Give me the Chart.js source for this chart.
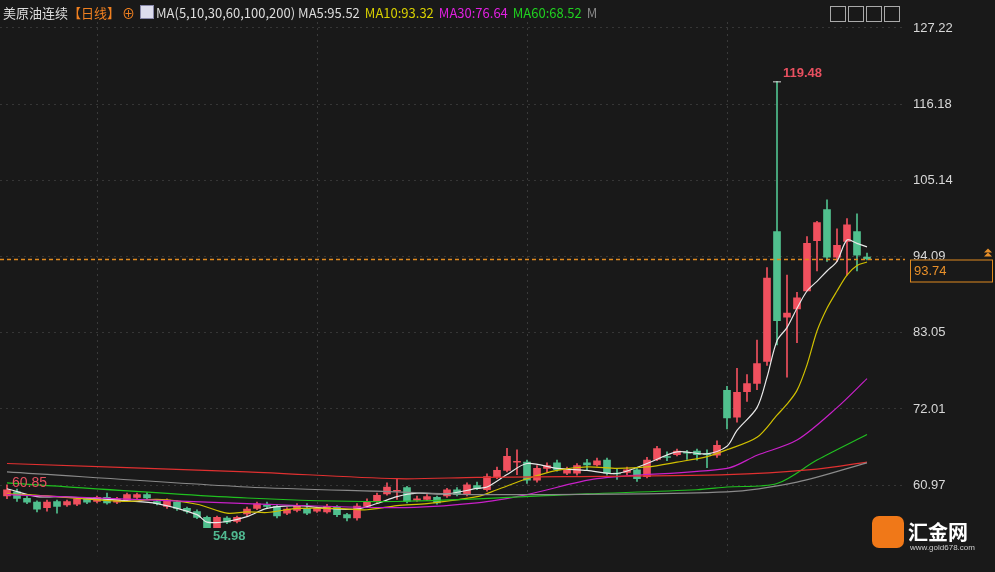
<!DOCTYPE html>
<html><head><meta charset="utf-8">
<script src="https://cdn.jsdelivr.net/npm/chart.js@4"></script>
<style>
html,body{margin:0;padding:0;background:#191919;overflow:hidden}
#wrap{position:relative;width:995px;height:572px}
#hdr{position:absolute;left:0;top:0;width:995px;height:22px;font:13px "Noto Sans CJK SC","Liberation Sans",sans-serif;color:#ddd;line-height:26px;white-space:nowrap}
#hdr span{margin-right:5px}
#logo{position:absolute;left:872px;top:514px;width:118px;height:38px;font:bold 20px "Noto Sans CJK SC",sans-serif;color:#fff}
</style></head><body>
<div id="wrap">
<canvas id="c" width="995" height="572"></canvas>
<div id="hdr"><span style="margin-left:3px;margin-right:0">美原油连续</span><span style="color:#f08020;margin-right:2px">【日线】</span><span style="color:#f08020">⊕</span><span style="display:inline-block;width:12px;height:12px;background:#dde;border:1px solid #88a;vertical-align:-1px;margin-right:2px"></span><span>MA(5,10,30,60,100,200) MA5:95.52</span><span style="color:#d8d000">MA10:93.32</span><span style="color:#e020e0">MA30:76.64</span><span style="color:#20d020">MA60:68.52</span><span style="color:#888">M</span>
<span style="position:absolute;left:830px;top:4px;width:80px;height:15px;">
<span style="display:inline-block;width:14px;height:14px;border:1px solid #aaa;margin-right:2px"></span><span style="display:inline-block;width:14px;height:14px;border:1px solid #aaa;margin-right:2px"></span><span style="display:inline-block;width:14px;height:14px;border:1px solid #aaa;margin-right:2px"></span><span style="display:inline-block;width:14px;height:14px;border:1px solid #aaa"></span></span></div>
<div id="logo"><span style="display:inline-block;width:32px;height:32px;border-radius:7px;background:#f07818;vertical-align:middle;margin-right:4px"></span><span style="vertical-align:middle">汇金网</span><div style="position:absolute;left:38px;top:29px;font:8px sans-serif;color:#ccc">www.gold678.com</div></div>
</div>
<script>
const opens =[59.4,60.0,59.05,58.5,57.7,58.6,58.1,58.2,59.0,58.6,59.2,58.5,58.8,59.2,59.6,58.6,57.9,58.5,57.6,57.15,56.3,54.8,56.2,55.7,56.8,
57.6,58.1,57.9,56.9,57.3,57.6,57.2,57.1,57.8,56.7,56.2,57.9,58.6,59.7,60.1,60.6,58.8,58.9,59.2,59.4,60.3,59.6,60.9,60.3,62.2,63.1,64.3,64.3,61.7,63.4,64.2,62.7,62.7,64.2,63.9,64.6,62.6,62.8,63.2,62.2,64.7,65.0,65.4,65.6,65.9,65.4,65.3,
74.7,70.8,74.5,75.7,78.9,97.7,85.3,86.5,89.1,96.4,100.9,94.0,96.3,97.7,94.0];
const closes=[60.3,59.05,58.5,57.5,58.5,57.9,58.6,59.0,58.5,59.2,58.4,59.0,59.6,59.6,59.1,58.3,58.8,57.6,57.2,56.3,54.8,56.3,55.6,56.3,57.5,
58.25,57.9,56.5,57.5,57.9,56.9,57.6,57.9,56.7,56.2,57.95,58.6,59.5,60.7,60.15,58.6,59.0,59.3,58.4,60.3,59.6,61.0,60.5,62.2,63.1,65.15,64.35,61.7,63.4,63.8,63.2,63.2,63.8,63.9,64.5,62.7,62.5,63.2,61.9,64.6,66.25,64.9,65.9,65.55,65.4,65.35,66.75,
70.7,74.4,75.7,78.6,90.96,84.8,85.9,88.1,96.0,99.0,93.99,95.7,98.7,94.3,93.74];
const highs=[61.0,60.4,59.6,58.7,58.8,58.8,58.8,59.2,59.2,59.4,59.8,59.2,59.8,59.8,59.9,58.8,59.0,58.7,57.8,57.4,56.5,56.5,56.4,56.5,57.8,
58.5,58.5,58.1,57.7,58.3,58.3,57.8,58.2,58.0,56.9,58.3,59.0,59.8,61.3,61.8,60.8,59.4,59.6,59.4,60.5,60.6,61.3,61.4,62.6,63.6,66.3,66.1,64.6,63.8,64.2,64.6,63.6,64.1,64.7,64.9,64.9,63.4,63.6,63.4,65.0,66.6,65.8,66.2,66.0,66.2,66.1,67.4,
75.3,77.9,77.0,82.0,92.5,119.48,91.4,88.9,97.0,99.2,102.3,98.1,99.6,100.3,94.6];
const lows=[59.0,58.6,58.3,57.1,57.2,56.9,57.9,58.0,58.3,58.4,58.2,58.3,58.6,59.0,58.9,58.1,57.6,57.3,56.9,56.1,54.98,55.1,55.4,55.5,56.5,
57.4,57.6,56.2,56.7,57.1,56.7,57.0,56.9,56.4,55.8,55.9,57.7,58.4,59.5,58.9,58.4,58.6,58.7,58.2,59.2,59.4,59.4,60.3,60.1,61.9,62.9,62.5,61.2,61.4,62.8,63.0,62.5,62.4,63.2,63.7,62.4,61.8,62.5,61.5,62.0,64.5,64.5,65.2,64.7,64.6,63.5,65.0,
69.1,70.1,73.1,74.8,78.3,81.3,76.6,81.6,89.1,92.0,93.4,93.4,91.4,92.0,93.6];
// moving-average lines: [candle index, value]
const ma5=[[0,60.45],[3,59.3],[5,59.3],[9,59.0],[12,58.7],[15,58.3],[19,56.7],[20,55.6],[22,55.7],[24,56.4],[26,57.6],[29,58.0],[32,57.6],[35,57.5],[37,58.3],[39,59.3],[41,59.8],[44,59.7],[47,60.5],[48,60.7],[50,62.5],[52,64.1],[55,63.4],[58,63.1],[61,62.65],[64,64.1],[67,65.8],[70,65.5],[72,66.6],[73,68.9],[75,72.2],[76,76.6],[77,81.9],[78,83.8],[79,86.6],[80,89.1],[81,90.5],[82,92.0],[83,93.4],[84,96.5],[85,96.0],[86,95.5]];
const ma10=[[0,59.7],[2,59.6],[5,59.3],[12,58.6],[15,58.9],[19,58.2],[22,56.9],[24,57.1],[26,57.0],[29,57.6],[33,57.6],[36,57.4],[39,58.0],[42,58.3],[47,59.3],[49,60.3],[52,61.9],[55,63.1],[58,63.6],[61,63.4],[64,63.6],[67,64.3],[70,65.1],[72,66.1],[75,67.9],[77,71.1],[78,72.7],[79,74.7],[80,78.4],[81,83.3],[82,86.6],[83,89.1],[84,91.4],[85,92.8],[86,93.3]];
const ma30=[[0,59.6],[24,58.3],[39,57.7],[47,58.4],[52,59.6],[59,61.9],[72,63.4],[75,65.3],[79,67.5],[83,72.2],[86,76.4]];
const ma60=[[0,61.3],[24,59.1],[39,58.6],[58,59.7],[69,60.3],[72,60.7],[77,61.2],[81,64.6],[86,68.3]];
const ma100=[[0,64.1],[24,62.9],[39,61.9],[47,62.1],[72,62.5],[81,63.3],[86,64.3]];
const ma200=[[0,62.9],[24,60.7],[39,60.0],[47,59.6],[72,60.0],[79,61.4],[86,64.2]];
const yTicks=[60.97,72.01,83.05,94.09,105.14,116.18,127.22];
const lastPrice=93.74;

const UP='#f0505e', DN='#50c08e';
const idx=opens.map((_,i)=>i);
const col=idx.map(i=>closes[i]>=opens[i]?UP:DN);
const body=idx.map(i=>({x:i,y:[opens[i],Math.abs(closes[i]-opens[i])<0.12?opens[i]+0.12:closes[i]]}));
const wick=idx.map(i=>({x:i,y:[lows[i],highs[i]]}));
const pts=a=>a.map(p=>({x:p[0],y:p[1]}));
const line=(d,c)=>({type:'line',data:pts(d),borderColor:c,borderWidth:1.2,pointRadius:0,tension:0.3,order:0});

const deco={id:'deco',
 beforeDatasetsDraw(ch){const {ctx,chartArea:a,scales:{x,y}}=ch;ctx.save();
  ctx.strokeStyle='#3a3a3a';ctx.setLineDash([2,4]);ctx.lineWidth=1;
  [9,31,52,72].forEach(i=>{const px=Math.round(x.getPixelForValue(i))+0.5;ctx.beginPath();ctx.moveTo(px,a.top);ctx.lineTo(px,a.bottom);ctx.stroke();});
  ctx.restore();},
 afterDatasetsDraw(ch){const {ctx,chartArea:a,scales:{x,y}}=ch;ctx.save();
  const py=Math.round(y.getPixelForValue(lastPrice))+0.5;
  ctx.strokeStyle='#e08a20';ctx.lineWidth=1.3;ctx.setLineDash([4,3]);ctx.beginPath();ctx.moveTo(0,py);ctx.lineTo(a.right,py);ctx.stroke();ctx.setLineDash([]);ctx.lineWidth=1;
  ctx.fillStyle='#191919';ctx.fillRect(910,py,82,22);ctx.strokeStyle='#e08a20';ctx.strokeRect(910.5,py+0.5,82,22);
  ctx.fillStyle='#e8902a';ctx.font='13px "Liberation Sans",sans-serif';ctx.textBaseline='middle';ctx.fillText(lastPrice.toFixed(2),914,py+12);
  ctx.beginPath();ctx.moveTo(984,py-7);ctx.lineTo(988,py-11);ctx.lineTo(992,py-7);ctx.closePath();ctx.fill();
  ctx.beginPath();ctx.moveTo(984,py-3);ctx.lineTo(988,py-7);ctx.lineTo(992,py-3);ctx.closePath();ctx.fill();
  const hi=highs.indexOf(Math.max(...highs)), lo=lows.indexOf(Math.min(...lows));
  ctx.font='bold 13px "Liberation Sans",sans-serif';ctx.textBaseline='alphabetic';
  const hx=x.getPixelForValue(hi),hy=y.getPixelForValue(highs[hi]);
  ctx.strokeStyle='#ddd';ctx.beginPath();ctx.moveTo(hx-4,hy+0.5);ctx.lineTo(hx+4,hy+0.5);ctx.stroke();
  ctx.fillStyle='#e85060';ctx.fillText(highs[hi].toFixed(2),hx+6,hy-4);
  const lx=x.getPixelForValue(lo),ly=y.getPixelForValue(lows[lo]);
  ctx.fillStyle='#50b890';ctx.fillText(lows[lo].toFixed(2),lx+6,ly+14);
  ctx.fillStyle='#e85060';ctx.font='14px "Liberation Sans",sans-serif';ctx.fillText('60.85',12,487);
  ctx.restore();}
};

new Chart(document.getElementById('c'),{
 data:{datasets:[
  line(ma200,'#8a8a8a'),line(ma100,'#e03030'),line(ma60,'#20c020'),line(ma30,'#c820c8'),line(ma10,'#d0c000'),line(ma5,'#e8e8e8'),
  {type:'bar',data:wick,backgroundColor:col,barThickness:1,order:2},
  {type:'bar',data:body,backgroundColor:col,barThickness:7,order:1}
 ]},
 plugins:[deco],
 options:{responsive:false,animation:false,
  layout:{padding:{top:22,bottom:12,left:0,right:0}},
  datasets:{bar:{grouped:false}},
  plugins:{legend:{display:false},tooltip:{enabled:false}},
  scales:{
   x:{type:'linear',min:-0.7,max:89.8,offset:false,bounds:'ticks',display:false},
   y:{position:'right',min:50.67,max:128.08,
      afterFit(s){s.width=90;},
      afterBuildTicks(s){s.ticks=yTicks.map(v=>({value:v}));},
      ticks:{color:'#d8d8d8',font:{size:13,family:'"Liberation Sans",sans-serif'},padding:8,callback:v=>v.toFixed(2)},
      grid:{color:'#363636',drawTicks:false},border:{display:false,dash:[2,4]}
   }
  }
 }
});
</script>
</body></html>
